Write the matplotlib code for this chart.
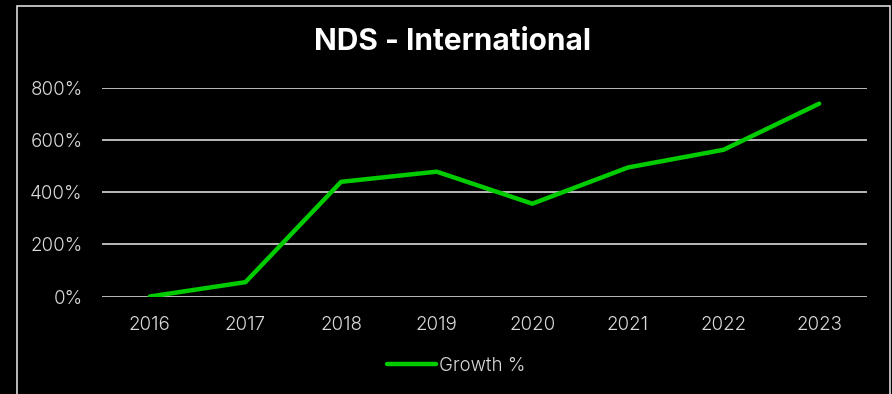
from matplotlib import pyplot as plt
from matplotlib.patches import Rectangle
import numpy as np

years = ['2016', '2017', '2018', '2019', '2020', '2021', '2022', '2023']
growth = [0, 55, 440, 479, 356, 495, 563, 740]
y_ticks = [0, 200, 400, 600, 800]
y_labels = ['0%', '200%', '400%', '600%', '800%']

plt.rcParams['font.family'] = ['Inter', 'DejaVu Sans']

W, H = 892, 394
fig = plt.figure(figsize=(W / 100, H / 100), dpi=100)
fig.patch.set_facecolor('black')

# chart frame
fig.patches.append(Rectangle((17 / W, -0.1), (890 - 17) / W, 1 - 6 / H + 0.1,
                             transform=fig.transFigure, fill=False,
                             edgecolor='#d9d9d9', lw=1.2))

ax = fig.add_axes([102 / W, 1 - 296.5 / H, (867 - 102) / W, (296.5 - 88) / H])
ax.set_facecolor('black')

x = np.arange(len(years))
ax.plot(x, growth, color='#00cc00', lw=3.2, solid_capstyle='round',
        label='Growth %', zorder=3)

ax.set_xlim(-0.5, len(years) - 0.5)
ax.set_ylim(0, 800)
ax.set_yticks(y_ticks)
ax.set_yticklabels(y_labels)
ax.set_xticks(x)
ax.set_xticklabels(years)
ax.grid(axis='y', color='#d9d9d9', lw=1.2)
ax.set_axisbelow(True)
for s in ax.spines.values():
    s.set_visible(False)
ax.tick_params(length=0, colors='#d9d9d9', labelsize=13.5)
ax.tick_params(axis='y', pad=14)
ax.tick_params(axis='x', pad=14)
for lbl in ax.get_xticklabels() + ax.get_yticklabels():
    lbl.set_fontweight(300)

fig.text(453 / W, 1 - 42 / H, 'NDS - International', color='white',
         fontsize=21.5, fontweight='bold', ha='center', va='center')

leg = ax.legend(loc='center', bbox_to_anchor=(456 / W, 1 - 366 / H),
                bbox_transform=fig.transFigure, frameon=False,
                fontsize=13.5, handlelength=2.6, handletextpad=0.15,
                labelcolor='#d9d9d9', prop={'weight': 300, 'size': 13.5})

fig.savefig('out.png', dpi=100, facecolor='black')
